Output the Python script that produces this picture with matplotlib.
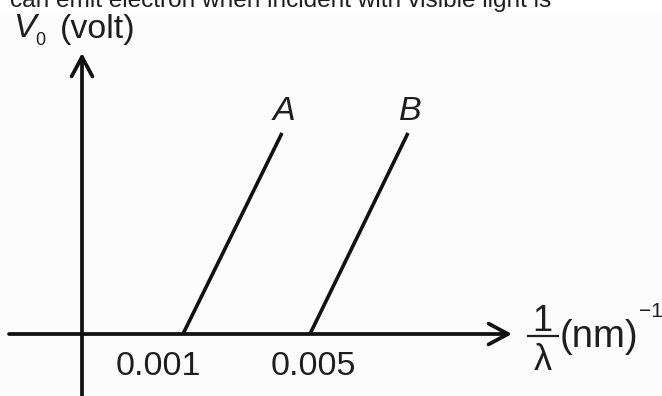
import matplotlib
matplotlib.use("Agg")
import matplotlib.pyplot as plt

plt.rcParams['font.family'] = ['Liberation Sans', 'DejaVu Sans']

# schematic diagram: units are pixels measured from where the axes cross
line_names = ['A', 'B']
threshold_labels = ['0.001', '0.005']
threshold_pos = [101, 228]        # foot of each line on the 1/lambda axis
line_run = [99, 98]               # horizontal run of each line
line_rise = [201, 201]            # vertical rise of each line
tick_label_pos = [76, 231]
caption = 'can emit electron when incident with visible light is'

ink = '#111111'
txt = '#1e1e1e'
fs = 24.5

fig = plt.figure(figsize=(6.62, 3.96), dpi=100, facecolor='#fcfcfc')
ax = fig.add_axes([0, 0, 1, 1])
ax.set_xlim(-82, 580)
ax.set_ylim(-62, 334)
ax.axis('off')
ax.set_facecolor('#fcfcfc')
ax.axhspan(324, 334, color='white', zorder=0)

# axes with open arrow heads
arrow = dict(arrowstyle='->,head_length=1.4,head_width=0.75', lw=2.7,
             color=ink, shrinkA=0, shrinkB=0, mutation_scale=10)
ax.annotate('', xy=(430, 0), xytext=(-73, 0), arrowprops=arrow)
ax.annotate('', xy=(0, 281), xytext=(0, -62), arrowprops=arrow)

for name, x0, run, rise, tl, tx in zip(line_names, threshold_pos, line_run,
                                       line_rise, threshold_labels, tick_label_pos):
    ax.plot([x0, x0 + run], [0, rise], color=ink, lw=2.6, solid_capstyle='butt')
    ax.text(x0 + run + 2, 223, name, fontsize=fs, style='italic', color=txt,
            ha='center', va='center')
    ax.text(tx, -41, tl, fontsize=fs, color=txt, ha='center', va='baseline')

# y label
ax.text(-69, 297, 'V', fontsize=fs, style='italic', color=txt, va='baseline')
ax.text(-47, 289, '0', fontsize=13, color=txt, va='baseline')
ax.text(-22, 296, '(volt)', fontsize=fs, color=txt, va='baseline')

# x label: 1/lambda (nm)^-1
ax.text(460, 3, '1', fontsize=26, color=txt, ha='center', va='baseline')
ax.plot([446, 476], [-2, -2], color=txt, lw=1.6)
ax.text(461, -36, 'λ', fontsize=26, color=txt, ha='center', va='baseline')
ax.text(478, -13, '(nm)', fontsize=27.5, color=txt, va='baseline')
ax.text(557, 17, '−1', fontsize=15, color=txt, va='baseline')

# clipped question text at the top
ax.text(-72, 327.5, caption, fontsize=17.6, color=txt, va='baseline', zorder=3)

fig.savefig('out.png', dpi=100, facecolor=fig.get_facecolor())
